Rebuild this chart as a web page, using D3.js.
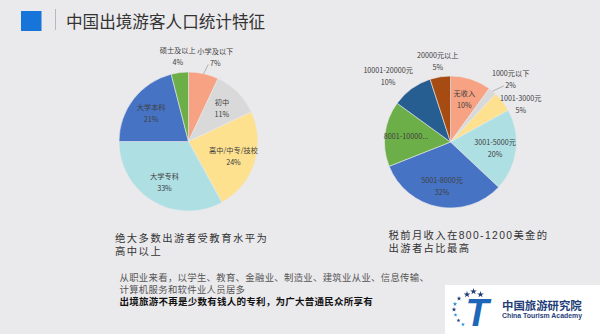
<!DOCTYPE html>
<html><head><meta charset="utf-8">
<script src="https://cdn.jsdelivr.net/npm/d3@7"></script>
<style>
html,body{margin:0;padding:0;background:#EAE9EC;}
svg{display:block;font-family:"Noto Sans CJK SC","Noto Sans",sans-serif;}
</style></head>
<body>
<svg id="chart" width="600" height="334"></svg>
<script>
// ---- data ----
const eduCategories = ["小学及以下","初中","高中/中专/技校","大学专科","大学本科","硕士及以上"];
const eduValues = [7, 11, 24, 33, 21, 4];
const eduColors = ["#F7A282","#D9D9D9","#FDE18F","#AEDFE2","#4673C4","#6CAE47"];
const eduOutside = [true,false,false,false,false,true];
const eduLeader = [true,false,false,false,false,false];

const incCategories = ["无收入","1000元以下","1001-3000元","3001-5000元","5001-8000元","8001-10000...","10001-20000元","20000元以上"];
const incValues = [10, 2, 5, 20, 32, 16, 10, 5];
const incColors = ["#F7A282","#D9D9D9","#FDE18F","#AEDFE2","#4673C4","#6CAE47","#275E92","#A64C12"];
const incOutside = [false,true,true,false,false,false,true,true];
const incLeader = [false,true,false,false,false,false,false,false];

const titleText = "中国出境游客人口统计特征";
const eduNote = ["绝大多数出游者受教育水平为","高中以上"];
const incNote = ["税前月收入在800-1200美金的","出游者占比最高"];
const occNote = ["从职业来看，以学生、教育、金融业、制造业、建筑业从业、信息传输、","计算机服务和软件业人员居多"];
const boldNote = "出境旅游不再是少数有钱人的专利，为广大普通民众所享有";
const logoCn = "中国旅游研究院";
const logoEn = "China Tourism Academy";

const svg = d3.select("#chart");
svg.append("rect").attr("width",600).attr("height",334).attr("fill","#EAE9EC");

// header
svg.append("rect").attr("x",21).attr("y",11).attr("width",20.5).attr("height",20).attr("fill","#1774D9");
svg.append("line").attr("x1",55.5).attr("x2",55.5).attr("y1",9).attr("y2",30).attr("stroke","#B8B8BC").attr("stroke-width",1);
svg.append("text").attr("x",66).attr("y",28).attr("font-size",16.6).attr("fill","#333")
  .text(titleText);

function drawPie(cx, cy, r, cats, vals, colors, outside, leader){
  const g = svg.append("g").attr("transform",`translate(${cx},${cy})`);
  const pie = d3.pie().sort(null).value(d=>d.v);
  const data = cats.map((c,i)=>({c, v:vals[i], col:colors[i], out:outside[i], lead:leader[i]}));
  const arcs = pie(data);
  const arc = d3.arc().innerRadius(0).outerRadius(r);
  g.selectAll("path").data(arcs).join("path")
    .attr("d",arc).attr("fill",d=>d.data.col)
    .attr("stroke","#EAE9EC").attr("stroke-width",0.6);

  const total = d3.sum(vals);
  const fs = 7.2;
  const labs = arcs.map(a=>{
    const mid = (a.startAngle+a.endAngle)/2;
    const rad = a.data.out ? r*1.24 : r*0.68;
    return {a, mid, x: Math.sin(mid)*rad, y: -Math.cos(mid)*rad,
            name:a.data.c, pct: a.data.c.endsWith("...") ? null : Math.round(a.data.v/total*100)+"%",
            out:a.data.out, lead:a.data.lead};
  });
  const tmp = g.append("text").attr("font-size",fs);
  labs.forEach(l=>{ tmp.text(l.name); l.w = tmp.node().getComputedTextLength(); l.h = l.pct?24:12; });
  tmp.remove();
  labs.forEach(l=>{ if(l.lead){ l.x += Math.sign(Math.sin(l.mid))*8; } });
  const outs = labs.filter(l=>l.out);
  for(let i=0;i<outs.length;i++) for(let j=0;j<outs.length;j++){
    if(i===j) continue;
    const A=outs[i], B=outs[j];
    const ox = Math.min(A.x+A.w/2, B.x+B.w/2) - Math.max(A.x-A.w/2, B.x-B.w/2);
    const oy = Math.min(A.y+A.h/2, B.y+B.h/2) - Math.max(A.y-A.h/2, B.y-B.h/2);
    if(ox>0 && oy>0){
      const mover = Math.cos(A.mid) < Math.cos(B.mid) ? A : B;
      const other = mover===A?B:A;
      if(Math.cos(mover.mid) > 0.7){
        const dir = Math.sign(mover.x-other.x)||1;
        mover.x += dir*(ox+4);
      } else {
        const dir = Math.sign(mover.y-other.y)||1;
        mover.y += dir*(oy+1);
        mover.x += Math.sign(Math.sin(mover.mid))*(oy/2);
      }
    }
  }
  labs.forEach(l=>{
    const t = g.append("text").attr("font-size",fs).attr("fill","#404040").attr("text-anchor","middle");
    if(l.pct){
      t.append("tspan").attr("x",l.x).attr("y",l.y-6).attr("dominant-baseline","central").text(l.name);
      t.append("tspan").attr("x",l.x).attr("y",l.y+6).attr("dominant-baseline","central").text(l.pct);
    } else {
      t.append("tspan").attr("x",l.x).attr("y",l.y).attr("dominant-baseline","central").text(l.name);
    }
    if(l.lead){
      const px = Math.sin(l.mid)*r, py = -Math.cos(l.mid)*r;
      const ex = l.x - 7, ey = l.y + 7;
      g.append("line").attr("x1",px).attr("y1",py).attr("x2",ex).attr("y2",ey)
        .attr("stroke","#8C8C8C").attr("stroke-width",0.6);
    }
  });
}

drawPie(188.5, 141.5, 69.5, eduCategories, eduValues, eduColors, eduOutside, eduLeader);
drawPie(450.5, 142, 66, incCategories, incValues, incColors, incOutside, incLeader);

// notes (baseline-positioned, Latin primary font for compact line boxes)
const noteFont = "'Liberation Sans','Noto Sans CJK SC',sans-serif";
function block(arr, x, yBase, dy, fs, fill, ls, weight){
  arr.forEach((s,i)=>{
    svg.append("text").attr("x",x).attr("y",yBase+i*dy)
      .attr("font-family",noteFont)
      .attr("font-size",fs).attr("fill",fill).attr("letter-spacing",ls)
      .attr("font-weight",weight||400).text(s);
  });
}
block(eduNote, 115, 242, 12.5, 10.3, "#333", 1.5);
block(incNote, 388.5, 239, 12.5, 10.3, "#333", 1.4);
block(occNote, 119.5, 281.2, 11.6, 9.4, "#555", 0.3);
block([boldNote], 119.5, 305, 12, 9.5, "#111", 0.25, 700);

// logo
const lg = svg.append("g");
lg.append("rect").attr("x",445).attr("y",285).attr("width",155).attr("height",49).attr("fill","#FFFFFF");
const bigStars = [[467,294.5],[473.5,291.5],[480.5,294.5]];
const smallStars = [[459,298.5],[455,304],[454,309.5],[455.5,315],[458.5,320.5],[463,324.5]];
const star = d3.symbol().type(d3.symbolStar);
bigStars.forEach(p=>lg.append("path").attr("d",star.size(14)()).attr("transform",`translate(${p[0]},${p[1]})`).attr("fill","#1F3E78"));
smallStars.forEach((p,i)=>lg.append("path").attr("d",star.size(i<3?7:5)()).attr("transform",`translate(${p[0]},${p[1]})`).attr("fill",i%2?"#2E8FD6":"#1F3E78"));
lg.append("text").attr("x",477).attr("y",326).attr("text-anchor","middle").attr("font-family","Liberation Sans, Arial, sans-serif")
  .attr("font-size",38).attr("font-weight",700).attr("font-style","italic").attr("fill","#1E66B8").text("T");
lg.append("text").attr("x",502).attr("y",305).attr("dominant-baseline","central").attr("font-size",11.4)
  .attr("font-weight",700).attr("fill","#1F3E78").text(logoCn);
lg.append("text").attr("x",502).attr("y",315.5).attr("dominant-baseline","central").attr("font-size",6.4)
  .attr("font-family","Liberation Sans, Arial, sans-serif").attr("font-weight",700).attr("fill","#1F3E78")
  .attr("textLength",80).attr("lengthAdjust","spacingAndGlyphs").text(logoEn);
</script>
</body></html>
